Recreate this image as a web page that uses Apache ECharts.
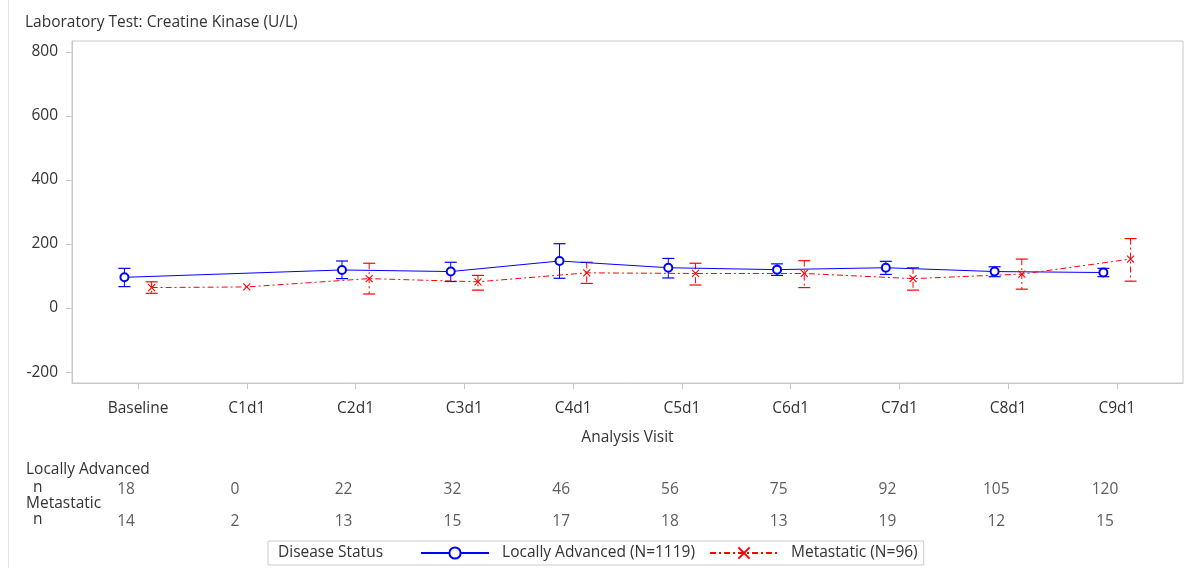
<!DOCTYPE html>
<html>
<head>
<meta charset="utf-8">
<script src="https://cdn.jsdelivr.net/npm/echarts@6/dist/echarts.min.js"></script>
<style>html,body{margin:0;padding:0;background:#fff}#c{width:1193px;height:568px}</style>
</head>
<body>
<div id="c"></div>
<script>
// ---- data ----
const categories = ['Baseline','C1d1','C2d1','C3d1','C4d1','C5d1','C6d1','C7d1','C8d1','C9d1'];
const yTicks = [-200, 0, 200, 400, 600, 800];
// Locally Advanced: mean, lower, upper (null = no data)
const laMean  = [96, null, 119, 114, 147, 126, 120, 126, 114, 111];
const laLow   = [67, null, 92, 83, 93, 94, 102, 105, 98, 98];
const laHigh  = [124, null, 147, 143, 201, 155, 138, 146, 129, 124];
// Metastatic
const metMean = [64, 66, 92, 82, 110, 108, 108, 92, 106, 153];
const metLow  = [46, null, 44, 56, 77, 72, 64, 56, 59, 84];
const metHigh = [82, null, 140, 102, 143, 140, 148, 126, 153, 217];
const laN  = [18, 0, 22, 32, 46, 56, 75, 92, 105, 120];
const metN = [14, 2, 13, 15, 17, 18, 13, 19, 12, 15];
const laLabel = 'Locally Advanced (N=1119)';
const metLabel = 'Metastatic (N=96)';

// ---- layout helpers ----
const OFF = 0.125;
const FONT = 'Open Sans';
const FS = 15.5;
const TXT = '#333';
const BLUE = '#0000ff';
const RED = '#ff0000';
const DASH = [6, 3, 2, 3];

function offsetFor(i, own, other) { return (other[i] == null) ? 0 : own; }
const laPts = [], laErr = [], metPts = [], metErr = [];
categories.forEach((c, i) => {
  if (laMean[i] != null) {
    const x = i + offsetFor(i, -OFF, metMean);
    laPts.push([x, laMean[i]]);
    if (laLow[i] != null) laErr.push([x, laLow[i], laHigh[i]]);
  }
  if (metMean[i] != null) {
    const x = i + offsetFor(i, OFF, laMean);
    metPts.push([x, metMean[i]]);
    if (metLow[i] != null) metErr.push([x, metLow[i], metHigh[i]]);
  }
});

function errRender(color, dash) {
  return function (params, api) {
    const x = api.value(0), lo = api.value(1), hi = api.value(2);
    const p1 = api.coord([x, hi]), p2 = api.coord([x, lo]);
    const hw = 6;
    return {
      type: 'group',
      children: [
        { type: 'line', shape: { x1: p1[0], y1: p1[1], x2: p2[0], y2: p2[1] }, style: { stroke: color, lineWidth: 1, lineDash: dash } },
        { type: 'line', shape: { x1: p1[0] - hw, y1: p1[1], x2: p1[0] + hw, y2: p1[1] }, style: { stroke: color, lineWidth: 1.2 } },
        { type: 'line', shape: { x1: p2[0] - hw, y1: p2[1], x2: p2[0] + hw, y2: p2[1] }, style: { stroke: color, lineWidth: 1.2 } }
      ]
    };
  };
}

const tableData = [];
categories.forEach((c, i) => {
  tableData.push([i - 0.11, 1, laN[i]]);
  tableData.push([i - 0.11, 0, metN[i]]);
});

const xMin = -0.607, xMax = 9.607;
const chart = echarts.init(document.getElementById('c'), null, { renderer: 'canvas' });
chart.setOption({
  animation: false,
  textStyle: { fontFamily: FONT },
  title: {
    text: 'Laboratory Test: Creatine Kinase (U/L)',
    left: 20, top: 10,
    textStyle: { fontFamily: FONT, fontSize: FS, fontWeight: 'normal', color: TXT }
  },
  grid: [
    { left: 72, right: 10, top: 41, bottom: 185, show: true, borderColor: '#c8c8c8', borderWidth: 1 },
    { left: 72, right: 10, top: 490, height: 32, show: false }
  ],
  xAxis: [
    {
      type: 'value', gridIndex: 0, min: xMin, max: xMax,
      splitLine: { show: false },
      axisLine: { show: true, onZero: false, lineStyle: { color: '#c8c8c8' } },
      axisTick: { show: true, customValues: categories.map((c, i) => i), length: 6, lineStyle: { color: '#c8c8c8' } },
      axisLabel: { customValues: categories.map((c, i) => i), formatter: v => categories[Math.round(v)], margin: 18, fontSize: FS, color: TXT, fontFamily: FONT },
      name: 'Analysis Visit', nameLocation: 'middle', nameGap: 47,
      nameTextStyle: { fontSize: FS, color: TXT, fontFamily: FONT }
    },
    { type: 'value', gridIndex: 1, min: xMin, max: xMax, show: false }
  ],
  yAxis: [
    {
      type: 'value', gridIndex: 0, min: -234, max: 834,
      splitLine: { show: false },
      axisLine: { show: true, onZero: false, lineStyle: { color: '#c8c8c8' } },
      axisTick: { show: true, customValues: yTicks, length: 6, lineStyle: { color: '#c8c8c8' } },
      axisLabel: { customValues: yTicks, margin: 14, fontSize: FS, color: TXT, fontFamily: FONT }
    },
    { type: 'value', gridIndex: 1, min: 0, max: 1, show: false }
  ],
  legend: {
    left: 268, top: 541,
    padding: [4, 6, 4, 152],
    borderColor: '#cccccc', borderWidth: 1,
    itemWidth: 68, itemHeight: 14, itemGap: 14,
    formatter: name => '  ' + name,
    textStyle: { fontSize: FS, color: TXT, fontFamily: FONT },
    data: [laLabel, metLabel]
  },
  graphic: [
    { type: 'text', left: 278, top: 545, style: { text: 'Disease Status', fontSize: FS, fill: TXT, fontFamily: FONT } },
    { type: 'text', left: 26, top: 462, style: { text: 'Locally Advanced', fontSize: FS, fill: TXT, fontFamily: FONT } },
    { type: 'text', left: 33, top: 480, style: { text: 'n', fontSize: FS, fill: TXT, fontFamily: FONT } },
    { type: 'text', left: 26, top: 496, style: { text: 'Metastatic', fontSize: FS, fill: TXT, fontFamily: FONT } },
    { type: 'text', left: 33, top: 512, style: { text: 'n', fontSize: FS, fill: TXT, fontFamily: FONT } },
    { type: 'line', shape: { x1: 8.5, y1: 0, x2: 8.5, y2: 568 }, style: { stroke: '#e0e0e0', lineWidth: 1 } }
  ],
  series: [
    {
      name: laLabel, type: 'line', xAxisIndex: 0, yAxisIndex: 0, data: laPts,
      symbol: 'emptyCircle', symbolSize: 8, showAllSymbol: true,
      lineStyle: { color: BLUE, width: 1 },
      itemStyle: { color: BLUE, borderWidth: 1.2 },
      z: 3
    },
    {
      name: metLabel, type: 'line', xAxisIndex: 0, yAxisIndex: 0, data: metPts,
      symbol: 'path://M0,0L10,10M10,0L0,10', symbolSize: 7,
      lineStyle: { color: RED, width: 1, type: DASH },
      itemStyle: { color: RED, borderColor: RED, borderWidth: 1.1 },
      z: 3
    },
    {
      type: 'custom', xAxisIndex: 0, yAxisIndex: 0, data: laErr,
      renderItem: errRender(BLUE, null), z: 2
    },
    {
      type: 'custom', xAxisIndex: 0, yAxisIndex: 0, data: metErr,
      renderItem: errRender(RED, DASH), z: 2
    },
    {
      type: 'scatter', xAxisIndex: 1, yAxisIndex: 1, data: tableData,
      symbolSize: 1, itemStyle: { color: 'transparent' }, silent: true,
      label: { show: true, position: 'inside', formatter: p => String(p.value[2]), fontSize: FS, color: TXT, fontFamily: FONT }
    }
  ]
});
</script>
</body>
</html>
